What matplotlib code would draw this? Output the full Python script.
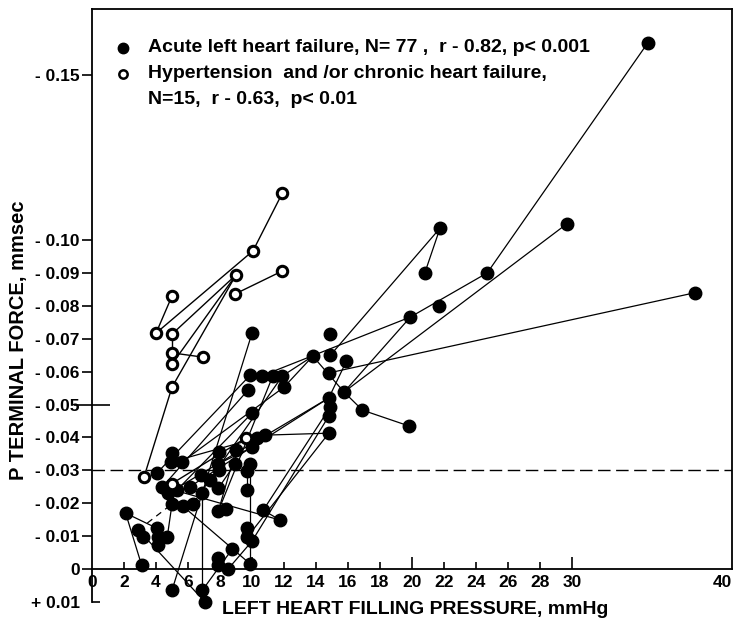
import matplotlib
matplotlib.use('Agg')
import matplotlib.pyplot as plt

plt.rcParams['font.family'] = ['Liberation Sans', 'DejaVu Sans']
plt.rcParams['font.weight'] = 'bold'

# acute left heart failure: filling pressure (mmHg), P terminal force (mm.sec)
acute_x = [34.75, 24.7, 29.7, 37.7, 21.75, 20.8, 21.7, 19.9, 19.8, 14.9,
           13.8, 14.9, 15.9, 14.8, 15.75, 14.8, 14.9, 14.8, 16.9, 14.8,
           10.0, 9.9, 10.6, 11.3, 11.9, 9.75, 12.0, 10.0, 10.3, 10.8,
           10.0, 7.94, 9.0, 5.0, 4.94, 5.6, 7.9, 8.94, 9.9, 7.94,
           9.7, 4.06, 6.8, 7.4, 4.4, 4.75, 5.3, 6.1, 6.9, 7.9,
           9.7, 5.0, 5.7, 6.3, 7.9, 8.4, 10.7, 11.75, 2.1, 2.9,
           3.2, 4.06, 4.1, 4.7, 4.1, 9.7, 9.7, 10.0, 8.75, 7.9,
           3.1, 7.9, 8.5, 9.9, 5.0, 6.9, 7.06]
acute_y = [-0.160, -0.090, -0.105, -0.084, -0.1036, -0.090, -0.080, -0.0766, -0.0435, -0.0714,
           -0.0647, -0.065, -0.0632, -0.0596, -0.0538, -0.052, -0.0493, -0.0465, -0.0483, -0.0413,
           -0.0717, -0.059, -0.0587, -0.0587, -0.0587, -0.0544, -0.0553, -0.0474, -0.0398, -0.0407,
           -0.037, -0.0356, -0.0362, -0.0353, -0.0325, -0.0325, -0.032, -0.032, -0.032, -0.030,
           -0.0298, -0.0292, -0.0286, -0.027, -0.025, -0.023, -0.024, -0.025, -0.023, -0.0246,
           -0.024, -0.0198, -0.0192, -0.0198, -0.0177, -0.0182, -0.0179, -0.0149, -0.017, -0.0119,
           -0.0097, -0.0124, -0.0097, -0.0097, -0.0073, -0.0124, -0.0097, -0.0085, -0.006, -0.0033,
           -0.0012, -0.0012, 0.0, -0.0015, 0.0064, 0.0064, 0.010]
acute_links = [(0, 1), (1, 7), (7, 14), (7, 22), (2, 14), (3, 13), (4, 5), (4, 11),
               (14, 18), (18, 8), (10, 14), (12, 15), (10, 26), (26, 35), (19, 29),
               (20, 74), (15, 45), (16, 56), (17, 67), (56, 57), (21, 41), (25, 44),
               (27, 46), (23, 54), (10, 24), (28, 34), (38, 73), (32, 54), (31, 39),
               (40, 50), (33, 34), (42, 43), (45, 73), (44, 57), (52, 53), (51, 63),
               (48, 75), (75, 68), (72, 67), (65, 66), (66, 19), (54, 55), (58, 70),
               (58, 61), (59, 76), (61, 64), (62, 63), (69, 71), (47, 15), (36, 30),
               (49, 37), (53, 24)]
acute_dashed = [(59, 51)]

# hypertension and/or chronic heart failure
chronic_x = [11.9, 10.06, 9.0, 11.9, 8.94, 5.0, 4.0, 5.0, 5.0, 5.0, 6.94, 5.0, 3.25, 9.6, 5.0]
chronic_y = [-0.1143, -0.0967, -0.0894, -0.0906, -0.0836, -0.083, -0.0717, -0.0714,
             -0.0657, -0.0623, -0.0644, -0.0553, -0.028, -0.0398, -0.026]
chronic_links = [(0, 1), (1, 6), (5, 6), (2, 7), (2, 9), (2, 11), (11, 12), (7, 8),
                 (8, 10), (4, 3), (14, 13)]

x_ticks = [0, 2, 4, 6, 8, 10, 12, 14, 16, 18, 20, 22, 24, 26, 28, 30, 40]
y_ticks = [-0.15, -0.10, -0.09, -0.08, -0.07, -0.06, -0.05, -0.04, -0.03, -0.02, -0.01, 0, 0.01]
y_labels = ['- 0.15', '- 0.10', '- 0.09', '- 0.08', '- 0.07', '- 0.06', '- 0.05',
            '- 0.04', '- 0.03', '- 0.02', '- 0.01', '0', '+ 0.01']

fig = plt.figure(figsize=(7.38, 6.28), dpi=100)
ax = fig.add_axes([0.1247, 0.0414, 0.8672, 0.9443])

for i, j in acute_links:
    ax.plot([acute_x[i], acute_x[j]], [acute_y[i], acute_y[j]], color='black', lw=0.9,
            zorder=2, clip_on=False)
for i, j in acute_dashed:
    ax.plot([acute_x[i], acute_x[j]], [acute_y[i], acute_y[j]], color='black', lw=0.9,
            dashes=(5, 4), zorder=2)
for i, j in chronic_links:
    ax.plot([chronic_x[i], chronic_x[j]], [chronic_y[i], chronic_y[j]], color='black', lw=1.0, zorder=2)

ax.plot(acute_x, acute_y, 'o', color='black', ms=9, zorder=3, clip_on=False)
ax.plot(chronic_x, chronic_y, 'o', mfc='white', mec='black', mew=2.2, ms=7.5, zorder=4)

ax.axhline(-0.03, xmin=0, xmax=1, color='black', lw=1.0, dashes=(9, 4), zorder=1)

ax.set_xlim(0, 40)
ax.set_ylim(0.01, -0.1702)

ax.spines['bottom'].set_position(('data', 0))
ax.spines['right'].set_bounds(-0.1702, 0)
for s in ax.spines.values():
    s.set_linewidth(1.3)

ax.set_xticks(x_ticks)
ax.set_xticklabels([str(t) for t in x_ticks], fontsize=12.5, fontweight='bold')
ax.tick_params(axis='x', direction='in', length=5, width=1.2, pad=4)
for t, v in zip(ax.xaxis.get_major_ticks(), x_ticks):
    if v in (10, 20, 30):
        t.tick1line.set_markersize(9)
    if v in (0, 40):
        t.tick1line.set_visible(False)
    if v == 40:
        t.label1.set_horizontalalignment('right')

ax.set_yticks(y_ticks)
ax.set_yticklabels(y_labels, fontsize=12.5, fontweight='bold')
ax.tick_params(axis='y', direction='out', length=7, width=1.2, pad=2)
for t, v in zip(ax.yaxis.get_major_ticks(), y_ticks):
    if v == -0.05:
        t.tick1line.set_marker('_')
        t.tick1line.set_markersize(26)
    if v == 0.01:
        t.tick1line.set_marker(1)
        t.tick1line.set_markersize(6)

fig.text(415 / 738, 1 - 610 / 628, 'LEFT HEART FILLING PRESSURE, mmHg',
         fontsize=14, fontweight='bold', ha='center', va='center')
ax.set_ylabel('P TERMINAL FORCE, mmsec', fontsize=14.5, fontweight='bold')
ax.yaxis.set_label_coords(-0.1, 0.442)

# legend text
ax.plot([1.95], [-0.1584], 'o', color='black', ms=7.5, clip_on=False)
ax.plot([1.95], [-0.1505], 'o', mfc='white', mec='black', mew=1.8, ms=6, clip_on=False)
ax.text(3.5, -0.1584, 'Acute left heart failure, N= 77 ,  r - 0.82, p< 0.001',
        fontsize=14, fontweight='bold', va='center')
ax.text(3.5, -0.1505, 'Hypertension  and /or chronic heart failure,',
        fontsize=14, fontweight='bold', va='center')
ax.text(3.5, -0.1428, 'N=15,  r - 0.63,  p< 0.01',
        fontsize=14, fontweight='bold', va='center')

fig.savefig('out.png', dpi=100)
